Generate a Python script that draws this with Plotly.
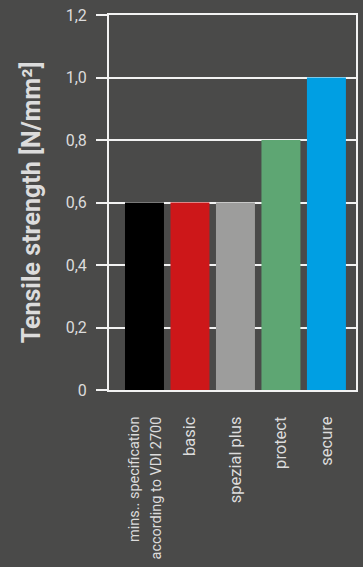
import plotly.graph_objects as go

categories = [
    "<span style='font-size:14.5px'>mins.. specification</span><br>"
    "<span style='font-size:14.5px'>according to VDI 2700</span>",
    "basic",
    "spezial plus",
    "protect",
    "secure",
]
tensile_strength = [0.6, 0.6, 0.6, 0.8, 1.0]
bar_colors = ["#000000", "#cd1719", "#9d9d9c", "#5ea673", "#009fe3"]
y_tick_vals = [0, 0.2, 0.4, 0.6, 0.8, 1.0, 1.2]
y_tick_text = ["0", "0,2", "0,4", "0,6", "0,8", "1,0", "1,2"]

bg = "#4a4a49"
fg = "#dcdcdc"
line = "#f2f2f2"

fig = go.Figure(
    go.Bar(
        x=list(range(len(categories))),
        y=tensile_strength,
        marker=dict(color=bar_colors, line=dict(width=0)),
        width=0.857,
    )
)

fig.update_layout(
    width=363,
    height=567,
    margin=dict(l=109, r=7, t=15, b=177),
    paper_bgcolor=bg,
    plot_bgcolor=bg,
    showlegend=False,
    font=dict(family="Roboto", color=fg, size=14),
    xaxis=dict(
        range=[-0.78, 4.65],
        tickvals=list(range(len(categories))),
        ticktext=categories,
        tickangle=-90,
        tickfont=dict(size=16.5, color=fg),
        showgrid=False,
        zeroline=False,
        showline=True,
        linecolor=line,
        linewidth=2,
        mirror=True,
        ticks="",
        ticklabelstandoff=18,
        automargin=False,
    ),
    yaxis=dict(
        range=[0, 1.2],
        tickvals=y_tick_vals,
        ticktext=y_tick_text,
        tickfont=dict(size=16, color=fg),
        showgrid=True,
        gridcolor=line,
        gridwidth=2,
        zeroline=False,
        showline=True,
        linecolor=line,
        linewidth=2,
        mirror=True,
        ticks="outside",
        ticklen=11,
        tickwidth=2,
        tickcolor=line,
        ticklabelstandoff=6,
        automargin=False,
        title=dict(
            text="<b>Tensile strength [N/mm²]</b>",
            font=dict(size=25, color=fg),
            standoff=18,
        ),
    ),
)

fig.write_html("out.html")
